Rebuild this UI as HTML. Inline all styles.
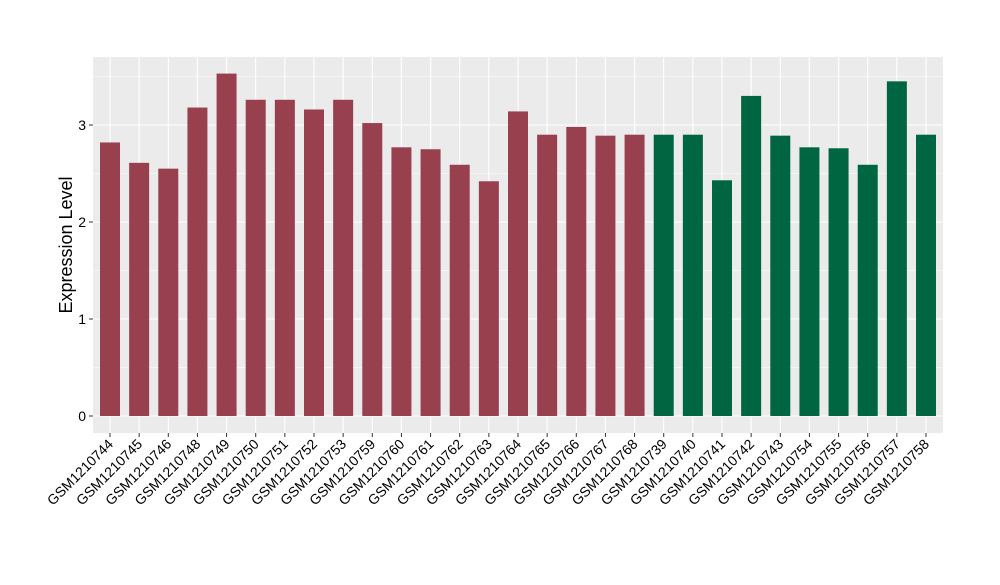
<!DOCTYPE html>
<html><head><meta charset="utf-8"><style>
body{margin:0;background:#fff;font-family:"Liberation Sans","DejaVu Sans",sans-serif}
</style></head><body>
<svg id="chart" width="1000" height="580" xmlns="http://www.w3.org/2000/svg" font-family="Liberation Sans, DejaVu Sans, sans-serif">
<rect x="93" y="57" width="850" height="376" fill="#ebebeb"/>
<g id="grid"></g><g id="bars"></g><g id="yaxis"></g><g id="xaxis"></g>
<text transform="translate(72,245) rotate(-90)" text-anchor="middle" font-size="18" fill="#000">Expression Level</text>
</svg>
<script>
const categories=["GSM1210744","GSM1210745","GSM1210746","GSM1210748","GSM1210749","GSM1210750","GSM1210751","GSM1210752","GSM1210753","GSM1210759","GSM1210760","GSM1210761","GSM1210762","GSM1210763","GSM1210764","GSM1210765","GSM1210766","GSM1210767","GSM1210768","GSM1210739","GSM1210740","GSM1210741","GSM1210742","GSM1210743","GSM1210754","GSM1210755","GSM1210756","GSM1210757","GSM1210758"];
const values=[2.82,2.61,2.55,3.18,3.53,3.26,3.26,3.16,3.26,3.02,2.77,2.75,2.59,2.42,3.14,2.90,2.98,2.89,2.90,2.90,2.90,2.43,3.30,2.89,2.77,2.76,2.59,3.45,2.90];
const groups=["a","a","a","a","a","a","a","a","a","a","a","a","a","a","a","a","a","a","a","b","b","b","b","b","b","b","b","b","b"];
const yTicks=[0,1,2,3];
const colors={a:"#99404f",b:"#006642"};
const NS="http://www.w3.org/2000/svg";
const x0=110,step=(926-110)/28,bw=20;
const xs=i=>x0+i*step;
const ys=v=>416-v*97;
function mk(t,a,p){const e=document.createElementNS(NS,t);for(const k in a)e.setAttribute(k,a[k]);p.appendChild(e);return e;}
const grid=document.getElementById('grid'),bars=document.getElementById('bars'),ya=document.getElementById('yaxis'),xa=document.getElementById('xaxis');
for(let v=-0.5;v<=3.5;v+=0.5){const y=ys(v);if(y<57||y>433)continue;
 const g=mk('line',{x1:93,x2:943,y1:y,y2:y,stroke:'#fff','stroke-width':Number.isInteger(v)?1.1:0.5},grid);
 
 }
categories.forEach((c,i)=>{const l=mk('line',{x1:xs(i),x2:xs(i),y1:57,y2:433,stroke:'#fff','stroke-width':1.1},grid);
 
 });
values.forEach((v,i)=>{const r=mk('rect',{x:xs(i)-bw/2,y:ys(v),width:bw,height:ys(0)-ys(v),fill:colors[groups[i]]},bars);
 
 });
yTicks.forEach(t=>{const y=ys(t);
 const tk=mk('line',{x1:89,x2:93,y1:y,y2:y,stroke:'#333'},ya);
 
 
 const tx=mk('text',{x:86,y:y+5,'text-anchor':'end','font-size':14,fill:'#000'},ya);tx.textContent=t;
 
 });
categories.forEach((c,i)=>{const x=xs(i);
 const tk=mk('line',{x1:x,x2:x,y1:433,y2:437,stroke:'#333'},xa);
 
 
 const tx=mk('text',{transform:`translate(${x+4},${445}) rotate(-45)`,'text-anchor':'end','font-size':14,fill:'#000'},xa);tx.textContent=c;
 
 });
</script>
</body></html>
